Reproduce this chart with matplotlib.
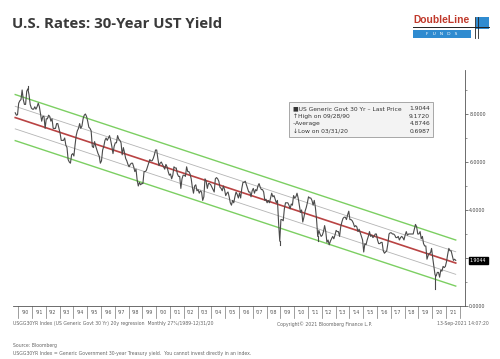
import matplotlib
matplotlib.use("Agg")
import matplotlib.pyplot as plt
import matplotlib.patches as mpatches
import numpy as np

# ---------------- data (monthly closes, 30y UST yield, Oct-1989 .. Sep-2021) -------------
start_year = 1989
start_month = 10
yields = [
    # 1989 Oct-Dec
    8.05, 7.95, 7.97,
    # 1990
    8.45, 8.55, 8.60, 9.00, 8.60, 8.40, 8.40, 8.95, 9.05, 8.80, 8.40, 8.25,
    # 1991
    8.20, 8.20, 8.30, 8.20, 8.30, 8.45, 8.30, 8.00, 7.70, 7.90, 7.90, 7.40,
    # 1992
    7.80, 7.80, 7.95, 7.90, 7.70, 7.80, 7.40, 7.40, 7.40, 7.60, 7.60, 7.40,
    # 1993
    7.20, 6.90, 6.90, 6.90, 7.00, 6.70, 6.60, 6.10, 6.00, 5.95, 6.30, 6.35,
    # 1994
    6.25, 6.70, 7.10, 7.30, 7.40, 7.60, 7.40, 7.50, 7.80, 7.95, 8.00, 7.90,
    # 1995
    7.70, 7.45, 7.40, 7.30, 6.65, 6.60, 6.85, 6.65, 6.50, 6.35, 6.25, 5.95,
    # 1996
    6.05, 6.50, 6.65, 6.90, 7.00, 6.90, 7.00, 7.10, 6.90, 6.65, 6.35, 6.65,
    # 1997
    6.80, 6.80, 7.10, 6.95, 6.90, 6.80, 6.30, 6.60, 6.40, 6.15, 6.05, 5.90,
    # 1998
    5.80, 5.90, 5.95, 5.95, 5.80, 5.60, 5.70, 5.25, 5.00, 5.15, 5.05, 5.10,
    # 1999
    5.10, 5.60, 5.60, 5.65, 5.80, 5.95, 6.10, 6.05, 6.05, 6.15, 6.30, 6.50,
    # 2000
    6.50, 6.15, 5.85, 5.95, 6.00, 5.90, 5.80, 5.70, 5.90, 5.80, 5.60, 5.45,
    # 2001
    5.50, 5.30, 5.45, 5.80, 5.75, 5.75, 5.50, 5.40, 5.40, 4.90, 5.30, 5.45,
    # 2002
    5.45, 5.40, 5.80, 5.60, 5.60, 5.50, 5.30, 4.95, 4.70, 5.00, 5.05, 4.80,
    # 2003
    4.85, 4.70, 4.80, 4.75, 4.40, 4.55, 5.30, 5.20, 4.90, 5.10, 5.10, 5.05,
    # 2004
    4.95, 4.85, 4.75, 5.30, 5.35, 5.30, 5.20, 4.95, 4.90, 4.80, 5.00, 4.85,
    # 2005
    4.60, 4.70, 4.75, 4.55, 4.30, 4.20, 4.40, 4.30, 4.55, 4.75, 4.65, 4.50,
    # 2006
    4.70, 4.50, 4.90, 5.15, 5.15, 5.20, 5.05, 4.90, 4.75, 4.75, 4.55, 4.80,
    # 2007
    4.90, 4.70, 4.85, 4.80, 5.00, 5.10, 4.95, 4.85, 4.85, 4.75, 4.40, 4.45,
    # 2008
    4.30, 4.40, 4.30, 4.50, 4.70, 4.55, 4.60, 4.45, 4.30, 4.40, 3.45, 2.70,
    # 2009
    3.60, 3.60, 3.55, 4.05, 4.30, 4.30, 4.30, 4.20, 4.05, 4.25, 4.20, 4.60,
    # 2010
    4.50, 4.55, 4.70, 4.50, 4.20, 3.90, 4.00, 3.50, 3.70, 3.95, 4.10, 4.30,
    # 2011
    4.55, 4.50, 4.50, 4.40, 4.20, 4.40, 4.10, 3.60, 2.90, 3.15, 3.00, 2.90,
    # 2012
    2.95, 3.10, 3.35, 3.10, 2.65, 2.75, 2.55, 2.70, 2.80, 2.90, 2.80, 2.95,
    # 2013
    3.15, 3.10, 3.10, 2.90, 3.30, 3.50, 3.65, 3.70, 3.70, 3.60, 3.80, 3.95,
    # 2014
    3.60, 3.60, 3.55, 3.45, 3.30, 3.35, 3.30, 3.10, 3.20, 3.05, 2.90, 2.75,
    # 2015
    2.25, 2.60, 2.55, 2.75, 2.90, 3.10, 2.90, 2.95, 2.85, 2.90, 3.00, 3.00,
    # 2016
    2.75, 2.60, 2.60, 2.65, 2.65, 2.30, 2.20, 2.25, 2.30, 2.60, 3.00, 3.05,
    # 2017
    3.05, 3.00, 3.00, 2.95, 2.85, 2.85, 2.90, 2.75, 2.85, 2.90, 2.85, 2.75,
    # 2018
    2.95, 3.10, 2.95, 3.00, 3.00, 3.00, 3.00, 3.00, 3.20, 3.40, 3.30, 3.00,
    # 2019
    3.00, 3.10, 2.80, 2.90, 2.60, 2.50, 2.50, 1.95, 2.10, 2.20, 2.20, 2.40,
    # 2020
    2.00, 1.65, 1.30, 1.25, 1.40, 1.40, 1.20, 1.50, 1.45, 1.65, 1.60, 1.65,
    # 2021 Jan-Sep
    1.85, 2.15, 2.40, 2.30, 2.30, 2.10, 1.90, 1.95, 1.90,
]
# intramonth extremes drawn as spikes (month label, value)
spike_months = ["1990-09", "2008-12", "2011-09", "2020-03"]
spike_values = [9.17, 2.55, 2.70, 0.70]

# regression channel (values read at start / end of the line)
reg_start_value = 7.85
reg_end_value = 1.79
sigma1 = 0.47
sigma2 = 0.96

last_price = 1.9044
high_value, high_date = 9.1720, "09/28/90"
avg_value = 4.8746
low_value, low_date = 0.6987, "03/31/20"

year_labels = ["'90", "'91", "'92", "'93", "'94", "'95", "'96", "'97", "'98", "'99",
               "'00", "'01", "'02", "'03", "'04", "'05", "'06", "'07", "'08", "'09",
               "'10", "'11", "'12", "'13", "'14", "'15", "'16", "'17", "'18", "'19",
               "'20", "'21"]
y_ticks = [0, 2, 4, 6, 8]
y_tick_labels = ["0.0000", "", "4.0000", "6.0000", "8.0000"]

# ---------------- figure ----------------
W, H = 500, 359
fig = plt.figure(figsize=(W / 100, H / 100), dpi=100)
fig.patch.set_facecolor("white")

def fx(px):
    return px / W

def fy(py):
    return 1 - py / H

ax_l, ax_r, ax_t, ax_b = 13, 465, 70, 306
ax = fig.add_axes([fx(ax_l), fy(ax_b), fx(ax_r) - fx(ax_l), fy(ax_t) - fy(ax_b)])
ax.set_facecolor("white")

n = len(yields)
t = np.array([start_year + (start_month - 1 + i + 0.5) / 12 for i in range(n)])
y = np.array(yields)

ax.set_xlim(1989.63, 2022.38)
ax.set_ylim(0, (ax_b - ax_t) / 24)

# regression channel
x0, x1 = t[0], t[-1]
rx = np.array([x0, x1])
ry = np.array([reg_start_value, reg_end_value])
for off, col, lw in [(sigma2, "#7ccf62", 1.0), (-sigma2, "#7ccf62", 1.0),
                     (sigma1, "#b4b4b4", 0.6), (-sigma1, "#b4b4b4", 0.6)]:
    ax.plot(rx, ry + off, color=col, lw=lw, zorder=2)
ax.plot(rx, ry, color="#b94343", lw=1.2, zorder=3)

# yield series
ax.plot(t, y, color="#4a4a4a", lw=0.8, zorder=4)
for m, v in zip(spike_months, spike_values):
    yr, mo = int(m[:4]), int(m[5:])
    i = (yr - start_year) * 12 + (mo - start_month)
    ax.plot([t[i], t[i]], [y[i], v], color="#4a4a4a", lw=0.8, zorder=4)

# axes styling
for s in ["left", "top"]:
    ax.spines[s].set_visible(False)
ax.spines["right"].set_color("#555555")
ax.spines["right"].set_linewidth(0.6)
ax.spines["bottom"].set_color("#555555")
ax.spines["bottom"].set_linewidth(0.6)
ax.yaxis.tick_right()
ax.set_yticks(y_ticks)
ax.set_yticklabels(y_tick_labels, fontsize=3.4, color="#444444")
ax.set_yticks([1, 3, 5, 7, 9], minor=True)
ax.tick_params(axis="y", which="major", length=2, width=0.5, pad=1, colors="#444444")
ax.tick_params(axis="y", which="minor", length=1.5, width=0.4, colors="#444444")
ax.set_xticks([])

# year boxes under the axis
for k, lab in enumerate(year_labels):
    yr = 1990 + k
    ax.plot([yr, yr], [0, -12 / 24], color="#777777", lw=0.5, clip_on=False)
    ax.text(yr + 0.5, -7 / 24, lab, fontsize=3.4, color="#555555",
            ha="center", va="center", clip_on=False)
ax.plot([2022, 2022], [0, -12 / 24], color="#777777", lw=0.5, clip_on=False)

# last-price box
ax.text(ax.get_xlim()[1] + 0.35, last_price, f"{last_price:.4f}", fontsize=3.4,
        color="white", ha="left", va="center",
        bbox=dict(boxstyle="square,pad=0.25", fc="black", ec="black"), clip_on=False)

# legend box
fig.patches.append(mpatches.Rectangle((fx(289), fy(137)), fx(433) - fx(289), fy(102) - fy(137),
                                      transform=fig.transFigure, fc="#f3f3f3", ec="#9a9a9a",
                                      lw=0.6, zorder=10))
rows = [("\u25a0US Generic Govt 30 Yr \u2013 Last Price", f"{last_price:.4f}"),
        (f"\u2191High on {high_date}", f"{high_value:.4f}"),
        ("\u2013Average", f"{avg_value:.4f}"),
        (f"\u2193Low on {low_date}", f"{low_value:.4f}")]
for k, (l, r) in enumerate(rows):
    yy = 108.5 + k * 7.6
    fig.text(fx(293), fy(yy), l, fontsize=4.3, color="#333333", ha="left", va="center", zorder=11)
    fig.text(fx(430), fy(yy), r, fontsize=4.3, color="#333333", ha="right", va="center", zorder=11)

# title
fig.text(fx(12), fy(24), "U.S. Rates: 30-Year UST Yield", fontsize=10.8, fontweight="bold",
         family="Open Sans", color="#3a3a3a", ha="left", va="center")

# logo
fig.text(fx(413), fy(20), "DoubleLine", fontsize=7.4, fontweight="bold", family="Liberation Sans",
         color="#c0392b", ha="left", va="center")
fig.patches.append(mpatches.Rectangle((fx(413), fy(38)), fx(471) - fx(413), fy(30) - fy(38),
                                      transform=fig.transFigure, fc="#2f8bd0", ec="none"))
fig.text(fx(442), fy(34.3), "F   U   N   D   S", fontsize=3.2, color="white", ha="center", va="center")
fig.patches.append(mpatches.Rectangle((fx(476), fy(29)), fx(489) - fx(476), fy(17) - fy(29),
                                      transform=fig.transFigure, fc="#2f8bd0", ec="none"))
fig.lines.append(plt.Line2D([fx(413), fx(489)], [fy(26.5), fy(26.5)], transform=fig.transFigure,
                            color="#222222", lw=0.7))
for xv in (475, 478):
    fig.lines.append(plt.Line2D([fx(xv), fx(xv)], [fy(17), fy(38)], transform=fig.transFigure,
                                color="#222222", lw=0.6))

# footer texts
small = dict(fontsize=3.3, color="#666666", va="center")
fig.text(fx(13), fy(324), "USGG30YR Index (US Generic Govt 30 Yr) 20y regression  Monthly 27%/1989-12/31/20",
         ha="left", **small)
fig.text(fx(277), fy(324), "Copyright\u00a9 2021 Bloomberg Finance L.P.", ha="left", **small)
fig.text(fx(489), fy(324), "13-Sep-2021 14:07:20", ha="right", **small)
fig.text(fx(13), fy(345), "Source: Bloomberg", ha="left", **small)
fig.text(fx(13), fy(354), "USGG30YR Index = Generic Government 30-year Treasury yield.  You cannot invest directly in an index.",
         ha="left", **small)

fig.savefig("out.png", dpi=100, facecolor="white")
